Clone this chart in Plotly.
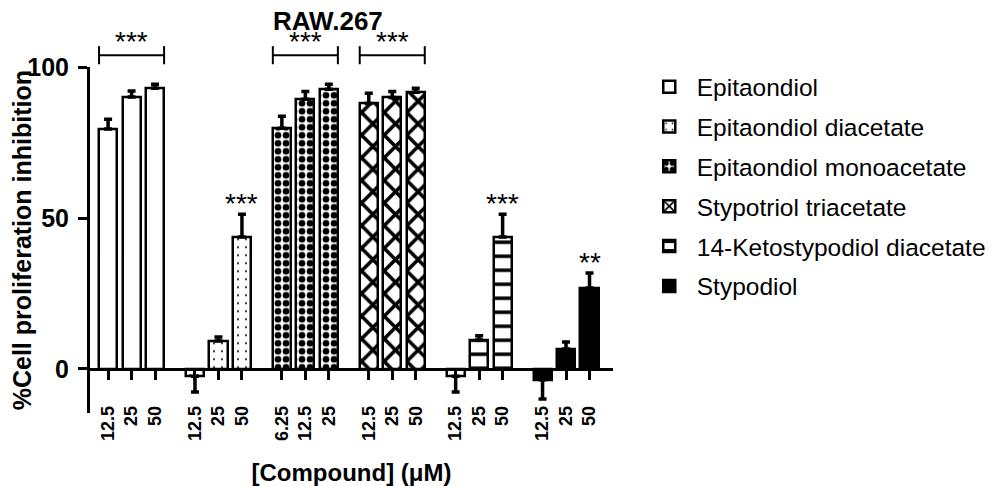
import plotly.graph_objects as go

# --- data ------------------------------------------------------------------
COMPOUNDS = [
    "Epitaondiol",
    "Epitaondiol diacetate",
    "Epitaondiol monoacetate",
    "Stypotriol triacetate",
    "14-Ketostypodiol diacetate",
    "Stypodiol",
]
DOSES = [
    ["12.5", "25", "50"],
    ["12.5", "25", "50"],
    ["6.25", "12.5", "25"],
    ["12.5", "25", "50"],
    ["12.5", "25", "50"],
    ["12.5", "25", "50"],
]
MEANS = [
    [79.5, 90.1, 93.0],
    [-2.4, 9.3, 43.7],
    [79.8, 89.4, 92.7],
    [88.0, 90.0, 91.7],
    [-2.4, 9.6, 43.7],
    [-3.6, 6.6, 26.8],
]
ERRORS = [
    [3.3, 2.0, 1.4],
    [5.2, 1.3, 7.6],
    [4.0, 2.6, 1.7],
    [3.4, 2.0, 1.3],
    [5.2, 1.4, 7.6],
    [6.4, 2.3, 5.0],
]
# groups marked with a bracket, and single bars marked with stars
BRACKET_GROUPS = [0, 2, 3]
BRACKET_LABEL = "***"
BRACKET_LEVEL = 104
BAR_MARKS = [(1, 2, "***"), (4, 2, "***"), (5, 2, "**")]

# --- style ------------------------------------------------------------------
FONT = "Arial, 'Liberation Sans', sans-serif"
GROUP_STEP = 3.7
BAR_W = 0.77
Y_MIN, Y_TOP, Y_AXIS_TOP = -14.6, 115, 100
X_RANGE = [-0.77, 21.5]

PATTERNS = [
    dict(shape=""),
    dict(shape=".", size=8, solidity=0.05),
    dict(shape=".", size=8, solidity=0.55),
    dict(shape="x", size=16, solidity=0.4),
    dict(shape="-", size=14, solidity=0.25),
    dict(shape=""),
]
FILLS = ["white", "white", "white", "white", "white", "black"]

positions = [[g * GROUP_STEP + i for i in range(3)] for g in range(len(COMPOUNDS))]

fig = go.Figure()

for g, name in enumerate(COMPOUNDS):
    up = [e if m >= 0 else 0 for m, e in zip(MEANS[g], ERRORS[g])]
    down = [e if m < 0 else 0 for m, e in zip(MEANS[g], ERRORS[g])]
    pattern = dict(PATTERNS[g])
    if pattern["shape"]:
        pattern.update(fgcolor="black", bgcolor="white", fgopacity=1,
                       fillmode="replace")
    fig.add_trace(go.Bar(
        x=positions[g], y=MEANS[g], name=name, width=BAR_W,
        legendgroup=name, xaxis="x", yaxis="y",
        marker=dict(color=FILLS[g], line=dict(color="black", width=2.5),
                    pattern=pattern),
        error_y=dict(type="data", symmetric=False, array=up, arrayminus=down,
                     color="black", thickness=3.5, width=4),
    ))

# significance brackets (on an invisible taller axis so they sit above 100)
bx, by = [], []
for g in BRACKET_GROUPS:
    left = positions[g][0] - BAR_W / 2
    right = positions[g][-1] + BAR_W / 2
    bx += [left, left, None, left, right, None, right, right, None]
    by += [BRACKET_LEVEL - 3, BRACKET_LEVEL + 3, None,
           BRACKET_LEVEL, BRACKET_LEVEL, None,
           BRACKET_LEVEL - 3, BRACKET_LEVEL + 3, None]
    fig.add_annotation(x=(left + right) / 2, y=BRACKET_LEVEL + 4.5, text=BRACKET_LABEL,
                       xref="x3", yref="y3", showarrow=False, yanchor="middle",
                       font=dict(family=FONT, size=28, color="black"))
fig.add_trace(go.Scatter(x=bx, y=by, mode="lines", showlegend=False,
                         xaxis="x3", yaxis="y3",
                         line=dict(color="black", width=2), hoverinfo="skip"))

for g, i, label in BAR_MARKS:
    top = MEANS[g][i] + ERRORS[g][i]
    fig.add_annotation(x=positions[g][i], y=top + 3.5, text=label, showarrow=False,
                       xref="x3", yref="y3", yanchor="middle",
                       font=dict(family=FONT, size=28, color="black"))

# chart title, pinned to the top edge of the figure
fig.add_annotation(text="<b>RAW.267</b>", xref="paper", yref="paper",
                   x=0.455, y=1.046, xanchor="center", yanchor="top",
                   showarrow=False, font=dict(family=FONT, size=26, color="black"))

tickvals = [p for grp in positions for p in grp]
ticktext = [d for grp in DOSES for d in grp]
zero_pos = -Y_MIN / (Y_TOP - Y_MIN)

fig.update_layout(
    width=992, height=478,
    margin=dict(l=82, r=387, t=14, b=73, autoexpand=False),
    paper_bgcolor="white", plot_bgcolor="rgba(0,0,0,0)",
    font=dict(family=FONT, color="black"),
    showlegend=True,
    bargap=0,
    legend=dict(x=1.055, xanchor="left", y=0.892, yanchor="top",
                font=dict(family=FONT, size=24.5, color="black"),
                itemwidth=45, tracegroupgap=5, bgcolor="rgba(0,0,0,0)"),
    # bars: line + ticks sit on zero
    xaxis=dict(domain=[0, 1], range=X_RANGE, anchor="free", position=zero_pos,
               tickvals=tickvals, showticklabels=False, ticks="outside",
               ticklen=9, tickwidth=3, tickcolor="black",
               showline=True, linewidth=3, linecolor="black",
               showgrid=False, zeroline=False),
    yaxis=dict(domain=[0, (Y_AXIS_TOP - Y_MIN) / (Y_TOP - Y_MIN)],
               range=[Y_MIN, Y_AXIS_TOP], anchor="x",
               tickvals=[0, 50, 100], ticks="outside", ticklen=9, tickwidth=3,
               tickcolor="black", showline=True, linewidth=3, linecolor="black",
               showgrid=False, zeroline=False, ticklabelstandoff=4,
               tickfont=dict(family=FONT, size=25, weight="bold"),
               title=dict(text="%Cell proliferation inhibition", standoff=22,
                          font=dict(family=FONT, size=25, weight="bold"))),
    # dose labels along the bottom, brackets above the top
    xaxis3=dict(domain=[0, 1], range=X_RANGE, anchor="free", position=0.03,
                tickvals=tickvals, ticktext=ticktext, tickangle=-90,
                ticks="", showline=False, showgrid=False, zeroline=False,
                tickfont=dict(family=FONT, size=18, weight="bold"),
                title=dict(text="[Compound] (μM)", standoff=32,
                           font=dict(family=FONT, size=24, weight="bold"))),
    yaxis3=dict(domain=[0, 1], range=[Y_MIN, Y_TOP], anchor="x3", visible=False),
)

fig.write_html("out.html")
